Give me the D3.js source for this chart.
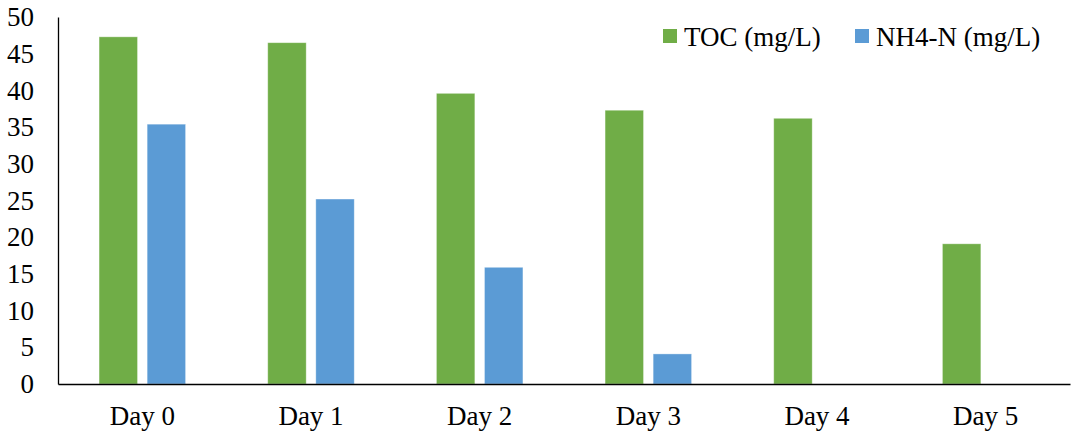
<!DOCTYPE html>
<html>
<head>
<meta charset="utf-8">
<script src="https://cdn.jsdelivr.net/npm/d3@7"></script>
<style>
  html, body { margin: 0; padding: 0; background: #fff; }
  svg { display: block; }
  text { font-family: "Liberation Serif", "Times New Roman", serif; fill: #000; }
</style>
</head>
<body>
<svg id="chart" width="1073" height="434"></svg>
<script>
// Sampling days and measured concentrations
const days = ["Day 0", "Day 1", "Day 2", "Day 3", "Day 4", "Day 5"];
const seriesNames = ["TOC (mg/L)", "NH4-N (mg/L)"];
const tocValues = [47.3, 46.5, 39.6, 37.3, 36.2, 19.1];
const nh4Values = [35.4, 25.2, 15.9, 4.1, 0, 0];
const yTicks = [0, 5, 10, 15, 20, 25, 30, 35, 40, 45, 50];
const colors = ["#70AD47", "#5B9BD5"];

const seriesValues = [tocValues, nh4Values];
const rows = days.map((d, i) => ({
  day: d,
  values: seriesNames.map((s, k) => ({ key: s, value: seriesValues[k][i], k }))
}));

const svg = d3.select("#chart");
const margin = { left: 58, right: 3, top: 17, bottom: 50 };
const W = 1073, H = 434;
const plotW = W - margin.left - margin.right;
const plotH = H - margin.top - margin.bottom;
const fontSize = "27px";

const g = svg.append("g").attr("transform", `translate(${margin.left},${margin.top})`);

const x0 = d3.scaleBand().domain(days).range([0, plotW]).padding(0);
const groupW = x0.bandwidth() * 0.513;
const x1 = d3.scaleBand().domain(seriesNames).range([0, groupW]).paddingInner(0.2).paddingOuter(0);
const y = d3.scaleLinear().domain([0, 50]).range([plotH, 0]);

// Grouped bars
const groups = g.selectAll("g.day")
  .data(rows)
  .join("g")
  .attr("class", "day")
  .attr("transform", d => `translate(${x0(d.day) + (x0.bandwidth() - groupW) / 2},0)`);

groups.selectAll("rect")
  .data(d => d.values.filter(v => v.value > 0))
  .join("rect")
  .attr("x", v => x1(v.key))
  .attr("width", x1.bandwidth())
  .attr("y", v => y(v.value))
  .attr("height", v => y(0) - y(v.value))
  .attr("fill", v => colors[v.k])
  .attr("stroke", "#ffffff")
  .attr("stroke-opacity", 0.45)
  .attr("stroke-width", 0.8);

// Y axis: line plus labels, no tick marks
const yAxis = g.append("g")
  .call(d3.axisLeft(y).tickValues(yTicks).tickSize(0).tickPadding(24).tickFormat(d3.format("d")));
yAxis.select(".domain").attr("stroke", "#000").attr("stroke-width", 1.3);
yAxis.selectAll("text")
  .style("font-family", "'Liberation Serif', 'Times New Roman', serif")
  .style("font-size", fontSize)
  .attr("fill", "#000");

// X axis baseline and category labels
const xAxis = g.append("g")
  .attr("transform", `translate(0,${plotH})`)
  .call(d3.axisBottom(x0).tickSize(0).tickPadding(22));
xAxis.select(".domain").attr("stroke", "#000").attr("stroke-width", 1.6);
xAxis.selectAll("text")
  .style("font-family", "'Liberation Serif', 'Times New Roman', serif")
  .style("font-size", fontSize)
  .attr("fill", "#000");

// Legend
const legendItems = [
  { name: seriesNames[0], color: colors[0], x: 663 },
  { name: seriesNames[1], color: colors[1], x: 855 }
];
const legend = svg.append("g");
const li = legend.selectAll("g")
  .data(legendItems)
  .join("g")
  .attr("transform", d => `translate(${d.x},29)`);
li.append("rect").attr("width", 14).attr("height", 14).attr("fill", d => d.color);
li.append("text")
  .attr("x", 21)
  .attr("y", 17)
  .style("font-size", fontSize)
  .text(d => d.name);
</script>
</body>
</html>
